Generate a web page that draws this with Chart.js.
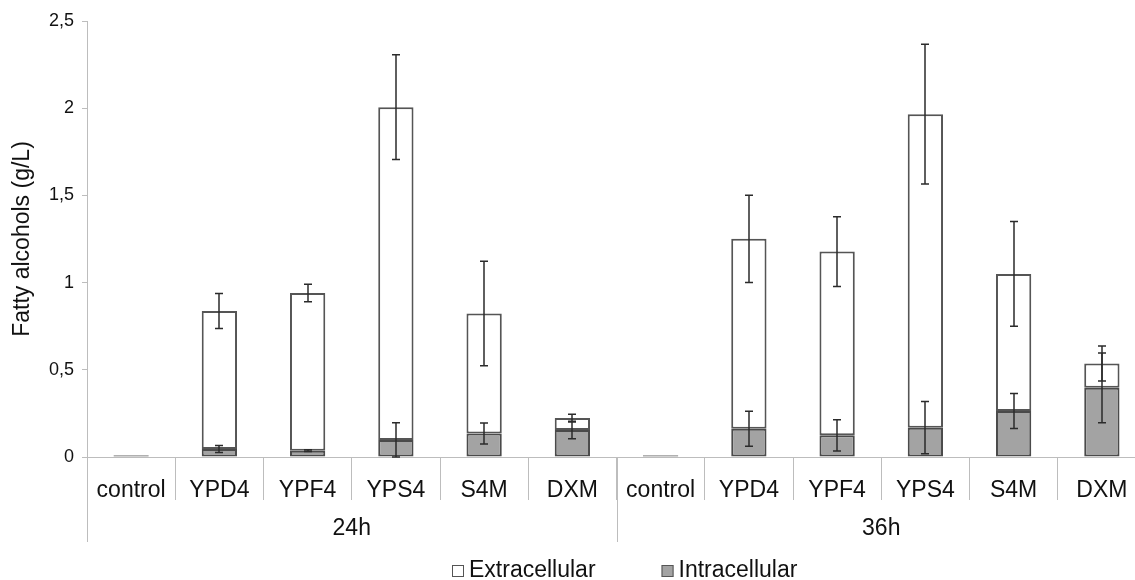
<!DOCTYPE html>
<html>
<head>
<meta charset="utf-8">
<script src="https://cdn.jsdelivr.net/npm/chart.js@4/dist/chart.umd.min.js"></script>
<style>
  html, body { margin: 0; padding: 0; background: #fff; overflow: hidden; }
  #wrap { width: 1146px; height: 580px; position: relative; }
</style>
</head>
<body>
<div id="wrap"><canvas id="chart"></canvas></div>
<script>
const categories = ["control", "YPD4", "YPF4", "YPS4", "S4M", "DXM", "control", "YPD4", "YPF4", "YPS4", "S4M", "DXM"]
const groups = ["24h", "36h"]
const groupSize = 6

const intracellular = [0.009, 0.046, 0.036, 0.097, 0.135, 0.155, 0.009, 0.162, 0.124, 0.168, 0.264, 0.397]
const extracellular = [0.002, 0.791, 0.904, 1.909, 0.688, 0.068, 0.002, 1.089, 1.054, 1.798, 0.786, 0.139]
const intracellularErr = [0, 0.02, 0.005, 0.1, 0.06, 0.05, 0, 0.1, 0.09, 0.15, 0.1, 0.2]
const extracellularErr = [0, 0.1, 0.05, 0.3, 0.3, 0.022, 0, 0.25, 0.2, 0.4, 0.3, 0.1]

const yMin = 0
const yMax = 2.5
const yStep = 0.5

const FONT = "'Liberation Sans', Arial, sans-serif"
const AXIS_GREY = "#bdbdbd"

// error bars centred on the top of each stacked segment
const errorBars = {
  id: "errorBars",
  afterDatasetsDraw(chart) {
    var ctx = chart.ctx
    var y = chart.scales.y
    ctx.save()
    ctx.strokeStyle = "#2b2b2b"
    ctx.lineWidth = 1.5
    chart.data.datasets.forEach((ds, i) => {
      var meta = chart.getDatasetMeta(i)
      meta.data.forEach((bar, j) => {
        var err = ds.errors[j]
        if (!err) return
        var top = y.getValueForPixel(bar.y)
        var hi = y.getPixelForValue(top + err)
        var lo = y.getPixelForValue(Math.max(top - err, 0))
        var x = Math.round(bar.x)
        ctx.beginPath()
        ctx.moveTo(x, hi); ctx.lineTo(x, lo)
        ctx.moveTo(x - 4, hi); ctx.lineTo(x + 4, hi)
        ctx.moveTo(x - 4, lo); ctx.lineTo(x + 4, lo)
        ctx.stroke()
      })
    })
    ctx.restore()
  }
}

// second level of the category axis (24h / 36h) and the legend below it
const groupAxis = {
  id: "groupAxis",
  afterDraw(chart) {
    var ctx = chart.ctx
    var x = chart.scales.x
    var area = chart.chartArea
    var half = (x.getPixelForValue(1) - x.getPixelForValue(0)) / 2
    ctx.save()
    ctx.strokeStyle = AXIS_GREY
    ctx.lineWidth = 1
    for (var g = 0; g <= groups.length; g++) {
      var idx = g * groupSize
      var px = idx < categories.length ? x.getPixelForValue(idx) - half : x.getPixelForValue(idx - 1) + half
      px = Math.round(px) + 0.5
      ctx.beginPath()
      ctx.moveTo(px, area.bottom)
      ctx.lineTo(px, area.bottom + 85)
      ctx.stroke()
    }
    ctx.fillStyle = "#111"
    ctx.font = "23px " + FONT
    ctx.textAlign = "center"
    ctx.textBaseline = "middle"
    groups.forEach((name, g) => {
      var a = x.getPixelForValue(g * groupSize)
      var b = x.getPixelForValue(g * groupSize + groupSize - 1)
      ctx.fillText(name, (a + b) / 2, area.bottom + 72)
    })

    // legend, Extracellular first as in the original
    var items = chart.data.datasets.slice().reverse()
    var lx = 452
    var ly = 571
    ctx.textAlign = "left"
    items.forEach(ds => {
      ctx.fillStyle = ds.backgroundColor
      ctx.fillRect(lx, ly - 6, 12, 12)
      ctx.strokeStyle = "#555"
      ctx.lineWidth = 1
      ctx.strokeRect(lx + 0.5, ly - 5.5, 11, 11)
      ctx.fillStyle = "#111"
      ctx.fillText(ds.label, lx + 17, ly)
      lx += 17 + ctx.measureText(ds.label).width + 66
    })
    ctx.restore()
  }
}

new Chart(document.getElementById("chart").getContext("2d"), {
  type: "bar",
  data: {
    labels: categories,
    datasets: [{
      label: "Intracellular",
      data: intracellular,
      errors: intracellularErr,
      backgroundColor: "#a3a3a3",
      borderColor: "#4a4a4a",
      borderWidth: 2,
      borderSkipped: false
    }, {
      label: "Extracellular",
      data: extracellular,
      errors: extracellularErr,
      backgroundColor: "#ffffff",
      borderColor: "#555555",
      borderWidth: 2,
      borderSkipped: false
    }]
  },
  options: {
    responsive: true,
    maintainAspectRatio: false,
    animation: false,
    categoryPercentage: 1,
    barPercentage: 0.4,
    layout: { padding: { top: 21, right: 0, bottom: 0, left: 0 } },
    plugins: {
      legend: { display: false },
      tooltip: { enabled: false }
    },
    scales: {
      x: {
        stacked: true,
        afterFit(scale) { scale.height = 123 },
        border: { color: AXIS_GREY },
        grid: { offset: true, drawOnChartArea: false, tickLength: 43, color: AXIS_GREY },
        ticks: {
          color: "#111",
          padding: -23,
          maxRotation: 0,
          autoSkip: false,
          font: { family: FONT, size: 23 }
        }
      },
      y: {
        stacked: true,
        min: yMin,
        max: yMax,
        afterFit(scale) { scale.width = 87 },
        border: { color: AXIS_GREY },
        grid: { drawOnChartArea: false, tickLength: 5, color: AXIS_GREY },
        ticks: {
          stepSize: yStep,
          padding: 8,
          color: "#111",
          font: { family: FONT, size: 18 },
          callback: v => String(v).replace(".", ",")
        },
        title: {
          display: true,
          text: "Fatty alcohols (g/L)",
          color: "#111",
          padding: { top: 9, bottom: 0 },
          font: { family: FONT, size: 23 }
        }
      }
    }
  },
  plugins: [errorBars, groupAxis]
})
</script>
</body>
</html>
